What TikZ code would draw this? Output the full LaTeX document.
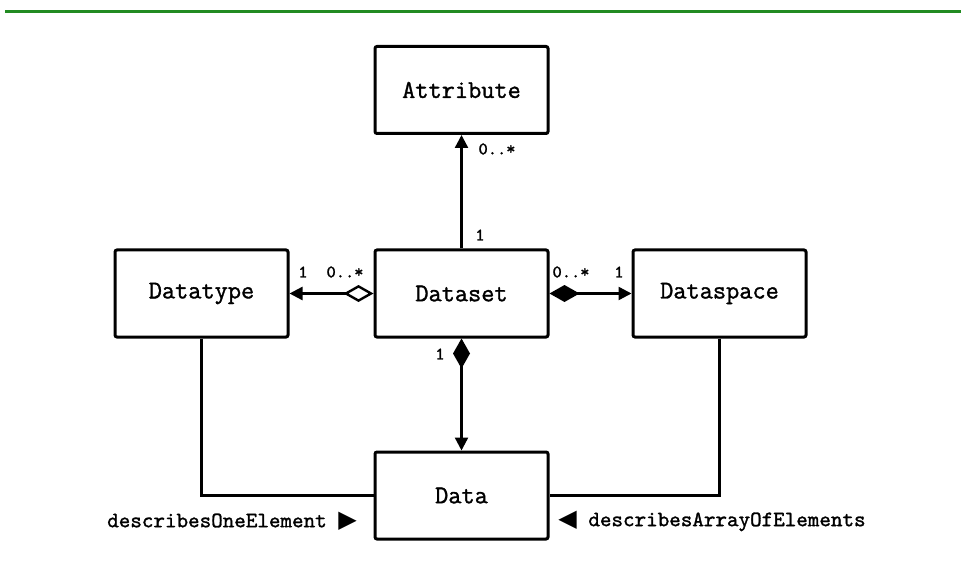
\documentclass[tikz,border=0pt]{standalone}
\usepackage{fontspec}
\newfontfamily\umlfont{Latin Modern Mono}[AutoFakeBold=1.3]
\newfontfamily\symfont{DejaVu Sans}
\usepackage{tikz}
\usetikzlibrary{arrows.meta}
\definecolor{rulegreen}{RGB}{34,139,34}

\begin{document}
\begin{tikzpicture}[x=0.5pt,y=-0.5pt,
    classbox/.style={draw,line width=1.5pt,rounded corners=1pt,minimum width=86.5pt,
      minimum height=43.5pt,font=\umlfont\bfseries\fontsize{12.8}{14}\selectfont},
    assoc/.style={line width=1.2pt},
    mult/.style={font=\umlfont\bfseries\fontsize{8.8}{10}\selectfont,inner sep=0pt},
    rolelabel/.style={font=\umlfont\bfseries\fontsize{11}{12}\selectfont,inner sep=0pt}]
  \useasboundingbox (0,0) rectangle (961,582);
  \draw[rulegreen,line width=1.5pt] (5,11.5) -- (961,11.5);

  % classes
  \node[classbox] (attribute) at (461.5,90) {Attribute};
  \node[classbox] (datatype) at (201.5,293.5) {Datatype};
  \node[classbox] (dataset) at (461.5,293.5) {Dataset};
  \node[classbox] (dataspace) at (719.5,293.5) {Dataspace};
  \node[classbox] (data) at (461.5,495.5) {Data};

  % associations
  \draw[assoc,-{Triangle[length=6.5pt,width=6.5pt]}] (dataset.north) -- (attribute.south);
  \draw[assoc,{Diamond[open,length=15pt,width=8.5pt,fill=white]}-{Triangle[length=6.5pt,width=6.5pt]}]
    (dataset.west) -- (datatype.east);
  \draw[assoc,{Diamond[length=15pt,width=8.5pt]}-{Triangle[length=6.5pt,width=6.5pt]}]
    (dataset.east) -- (dataspace.west);
  \draw[assoc,{Diamond[length=15pt,width=8.5pt]}-{Triangle[length=6.5pt,width=6.5pt]}]
    (dataset.south) -- (data.north);
  \draw[assoc] (datatype.south) |- (data.west);
  \draw[assoc] (dataspace.south) |- (data.east);

  % multiplicities
  \node[mult] (m1) at (497,149) {0..*};
  \node[mult] (m2) at (480,235) {1};
  \node[mult] (m3) at (303,272) {1};
  \node[mult] (m4) at (345,272) {0..*};
  \node[mult] (m5) at (571,272) {0..*};
  \node[mult] (m6) at (619,272) {1};
  \node[mult] (m7) at (440,354) {1};

  % roles
  \node[rolelabel] (r1) at (232,521) {describesOneElement {\symfont\fontsize{12}{12}\selectfont ▶}};
  \node[rolelabel] (r2) at (712,521) {{\symfont\fontsize{12}{12}\selectfont ◀} describesArrayOfElements};
\end{tikzpicture}
\end{document}
